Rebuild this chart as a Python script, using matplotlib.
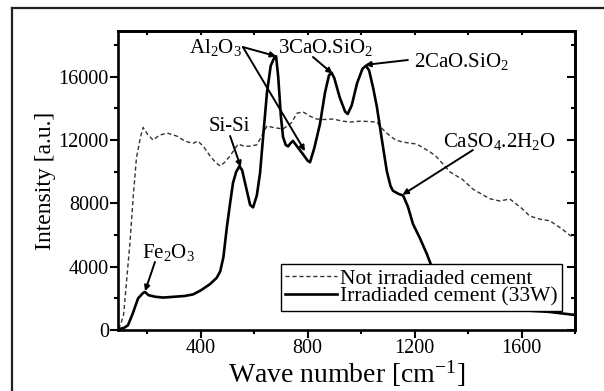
import matplotlib
matplotlib.use('Agg')
import matplotlib.pyplot as plt
from matplotlib.lines import Line2D
from matplotlib.ticker import MultipleLocator

plt.rcParams['font.family'] = 'Liberation Serif'
plt.rcParams['mathtext.fontset'] = 'custom'
plt.rcParams['mathtext.rm'] = 'Liberation Serif'
plt.rcParams['mathtext.it'] = 'Liberation Serif:italic'

# not irradiated cement (thin dashed)
x_not = [90, 100, 112, 125, 136, 148, 160, 175, 185, 200, 222, 245, 274, 311, 335, 353,
         372, 390, 410, 435, 455, 473, 490, 510, 540, 565, 585, 610, 630, 648, 670, 708,
         740, 760, 783, 810, 834, 860, 895, 930, 958, 1000, 1059, 1080, 1108, 1130, 1157,
         1208, 1258, 1283, 1332, 1380, 1418, 1480, 1519, 1556, 1600, 1631, 1670, 1706,
         1750, 1780, 1800]
y_not = [100, 300, 1000, 3500, 5600, 8500, 10900, 12200, 12800, 12400, 12000, 12300, 12450,
         12250, 12000, 11870, 11800, 11940, 11600, 11000, 10600, 10360, 10600, 11000, 11750,
         11600, 11620, 11700, 12300, 12900, 12800, 12700, 13100, 13700, 13780, 13500, 13330,
         13300, 13330, 13200, 13140, 13200, 13140, 12700, 12260, 12000, 11870, 11750, 11250,
         10930, 9990, 9500, 8900, 8300, 8150, 8280, 7700, 7200, 7000, 6900, 6400, 6000, 5800]

# irradiated cement 33W (thick solid)
x_irr = [90, 100, 115, 128, 145, 166, 185, 192, 205, 230, 260, 300, 340, 372, 400, 435, 460,
         473, 485, 498, 510, 521, 533, 545, 555, 570, 585, 596, 610, 622, 635, 648, 662, 675,
         682, 690, 700, 708, 718, 727, 736, 745, 765, 783, 800, 809, 825, 846, 865, 880, 890,
         900, 920, 940, 950, 965, 985, 1005, 1018, 1030, 1045, 1059, 1078, 1096, 1110, 1119,
         1140, 1157, 1175, 1194, 1220, 1246, 1280, 1320, 1360, 1400, 1500, 1600, 1650, 1700,
         1750, 1800]
y_irr = [50, 80, 150, 300, 1000, 2000, 2350, 2400, 2200, 2100, 2050, 2100, 2150, 2250, 2500,
         2900, 3300, 3700, 4600, 6500, 8000, 9300, 10000, 10350, 10100, 9000, 7900, 7750, 8500,
         9900, 12500, 15000, 16700, 17200, 17300, 16000, 13500, 12200, 11700, 11600, 11800,
         11950, 11500, 11100, 10700, 10600, 11500, 13000, 15000, 16100, 16250, 15900, 14700,
         13800, 13650, 14200, 15600, 16500, 16700, 16400, 15300, 14100, 12000, 10050, 9100,
         8800, 8600, 8500, 7800, 6700, 5800, 4800, 3300, 2000, 1500, 1350, 1300, 1250, 1200,
         1150, 1050, 950]

fig = plt.figure(figsize=(6.04, 3.91), dpi=100)
ax = fig.add_axes([0.195, 0.156, 0.757, 0.765])

ax.plot(x_not, y_not, color='#333333', lw=1.0, ls=(0, (3, 2)), label='Not irradiaded cement')
ax.plot(x_irr, y_irr, color='black', lw=1.9, label='Irradiaded cement (33W)')

ax.set_xlim(90, 1800)
ax.set_ylim(0, 18900)
ax.xaxis.set_major_locator(MultipleLocator(400))
ax.xaxis.set_minor_locator(MultipleLocator(200))
ax.yaxis.set_major_locator(MultipleLocator(4000))
ax.yaxis.set_minor_locator(MultipleLocator(2000))
ax.tick_params(which='both', direction='out', width=1.5, labelsize=14.5, pad=1)
ax.tick_params(which='major', length=5.5)
ax.tick_params(which='minor', length=3)
for s in ax.spines.values():
    s.set_linewidth(1.9)

top = ax.secondary_xaxis('top')
top.xaxis.set_major_locator(MultipleLocator(200))
top.tick_params(direction='in', length=3, width=1.5, labeltop=False)
right = ax.secondary_yaxis('right')
right.yaxis.set_major_locator(MultipleLocator(4000))
right.yaxis.set_minor_locator(MultipleLocator(2000))
right.tick_params(which='major', direction='in', length=5.5, width=1.5, labelright=False)
right.tick_params(which='minor', direction='in', length=3, width=1.5)
top.spines['top'].set_linewidth(1.9)
right.spines['right'].set_linewidth(1.9)

ax.set_xlabel(r'Wave number [cm$^{\mathrm{-1}}$]', fontsize=20, labelpad=0)
ax.set_ylabel('Intensity [a.u.]', fontsize=17, labelpad=2)

arrow = dict(arrowstyle='-|>', color='black', lw=1.4, mutation_scale=8, shrinkA=0, shrinkB=0)
fs = 15
ax.text(457, 17820, r'Al$_\mathrm{2}$O$_\mathrm{3}$', fontsize=fs, ha='center', va='center')
ax.annotate('', xy=(682, 17300), xytext=(558, 17880), arrowprops=arrow)
ax.annotate('', xy=(790, 11300), xytext=(558, 17880), arrowprops=arrow)
ax.text(868, 17880, r'3CaO.SiO$_\mathrm{2}$', fontsize=fs, ha='center', va='center')
ax.annotate('', xy=(893, 16200), xytext=(820, 17250), arrowprops=arrow)
ax.text(1374, 16935, r'2CaO.SiO$_\mathrm{2}$', fontsize=fs, ha='center', va='center')
ax.annotate('', xy=(1015, 16750), xytext=(1175, 17060), arrowprops=arrow)
ax.text(506, 12830, 'Si-Si', fontsize=fs, ha='center', va='center')
ax.annotate('', xy=(550, 10300), xytext=(510, 12260), arrowprops=arrow)
ax.text(278, 4870, r'Fe$_\mathrm{2}$O$_\mathrm{3}$', fontsize=fs, ha='center', va='center')
ax.annotate('', xy=(192, 2450), xytext=(229, 4300), arrowprops=arrow)
ax.text(1516, 11880, r'CaSO$_\mathrm{4}$.2H$_\mathrm{2}$O', fontsize=fs, ha='center', va='center')
ax.annotate('', xy=(1155, 8550), xytext=(1418, 11370), arrowprops=arrow)

leg = ax.legend(loc='lower right', bbox_to_anchor=(0.972, 0.064), borderaxespad=0,
                fontsize=15.5, frameon=True, fancybox=False, framealpha=1,
                edgecolor='black', handlelength=2.4, handletextpad=0.15,
                labelspacing=-0.1, borderpad=0.2)
leg.get_frame().set_linewidth(1.0)

# outer frame of the figure panel
fig.add_artist(Line2D([12 / 604, 12 / 604], [0, 383 / 391], color='#222222', lw=1.6))
fig.add_artist(Line2D([12 / 604, 1], [383 / 391, 383 / 391], color='#222222', lw=1.6))

fig.savefig('out.png', dpi=100)
